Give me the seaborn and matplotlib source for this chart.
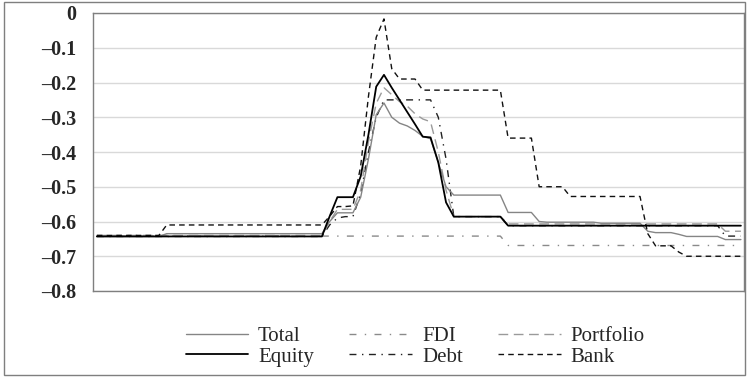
import matplotlib
matplotlib.use("Agg")
import matplotlib.pyplot as plt
import seaborn as sns
import pandas as pd
from matplotlib.patches import Rectangle

sns.set_theme(style="white")
plt.rcParams['font.family'] = ['Liberation Serif', 'DejaVu Serif']
plt.rcParams['lines.scale_dashes'] = False

# ---------------- data ----------------
periods = list(range(84))

bank = [-0.64, -0.64, -0.64, -0.64, -0.64, -0.64, -0.64, -0.64, -0.64,
        -0.61, -0.61, -0.61, -0.61, -0.61, -0.61, -0.61, -0.61, -0.61, -0.61,
        -0.61, -0.61, -0.61, -0.61, -0.61, -0.61, -0.61, -0.61, -0.61, -0.61, -0.61,
        -0.585, -0.557, -0.557, -0.555, -0.44, -0.24, -0.07, -0.017, -0.16,
        -0.19, -0.19, -0.19,
        -0.222, -0.222, -0.222, -0.222, -0.222, -0.222, -0.222, -0.222, -0.222, -0.222, -0.222,
        -0.36, -0.36, -0.36, -0.36,
        -0.50, -0.50, -0.50, -0.50,
        -0.528, -0.528, -0.528, -0.528, -0.528, -0.528, -0.528, -0.528, -0.528, -0.528,
        -0.635, -0.67, -0.67, -0.67, -0.688,
        -0.70, -0.70, -0.70, -0.70, -0.70, -0.70, -0.70, -0.70]

equity = [-0.643, -0.643, -0.643, -0.643, -0.643, -0.643, -0.643, -0.643, -0.643, -0.643,
          -0.643, -0.643, -0.643, -0.643, -0.643, -0.643, -0.643, -0.643, -0.643, -0.643,
          -0.643, -0.643, -0.643, -0.643, -0.643, -0.643, -0.643, -0.643, -0.643, -0.643,
          -0.585, -0.53, -0.53, -0.53, -0.47, -0.35, -0.212, -0.178, -0.215, -0.25,
          -0.285, -0.32, -0.356, -0.358, -0.43, -0.545,
          -0.586, -0.586, -0.586, -0.586, -0.586, -0.586, -0.586,
          -0.612, -0.612, -0.612, -0.612, -0.612, -0.612, -0.612, -0.612, -0.612, -0.612,
          -0.612, -0.612, -0.612, -0.612, -0.612, -0.612, -0.612, -0.612, -0.612, -0.612,
          -0.612, -0.612, -0.612, -0.612, -0.612, -0.612, -0.612, -0.612, -0.612, -0.612,
          -0.612]

total = [-0.643, -0.643, -0.643, -0.643, -0.643, -0.643, -0.643, -0.643, -0.643,
         -0.635, -0.635, -0.635, -0.635, -0.635, -0.635, -0.635, -0.635, -0.635, -0.635,
         -0.635, -0.635, -0.635, -0.635, -0.635, -0.635, -0.635, -0.635, -0.635, -0.635, -0.635,
         -0.60, -0.575, -0.575, -0.575, -0.53, -0.42, -0.293, -0.259, -0.30, -0.317,
         -0.325, -0.338, -0.355, -0.362, -0.43, -0.50,
         -0.524, -0.524, -0.524, -0.524, -0.524, -0.524, -0.524,
         -0.574, -0.574, -0.574, -0.574,
         -0.60, -0.602, -0.602, -0.602, -0.602, -0.602, -0.602, -0.602,
         -0.605, -0.605, -0.605, -0.605, -0.605, -0.605,
         -0.628, -0.632, -0.632, -0.632, -0.637,
         -0.643, -0.643, -0.643, -0.643, -0.643,
         -0.652, -0.652, -0.652]

fdi = [-0.642, -0.642, -0.642, -0.642, -0.642, -0.642, -0.642, -0.642, -0.642, -0.642,
       -0.642, -0.642, -0.642, -0.642, -0.642, -0.642, -0.642, -0.642, -0.642, -0.642,
       -0.642, -0.642, -0.642, -0.642, -0.642, -0.642, -0.642, -0.642, -0.642, -0.642,
       -0.642, -0.642, -0.642, -0.642, -0.642, -0.642, -0.642, -0.642, -0.642, -0.642,
       -0.642, -0.642, -0.642, -0.642, -0.642, -0.642, -0.642, -0.642, -0.642, -0.642,
       -0.642, -0.642, -0.642,
       -0.669, -0.669, -0.669, -0.669, -0.669, -0.669, -0.669, -0.669, -0.669, -0.669,
       -0.669, -0.669, -0.669, -0.669, -0.669, -0.669, -0.669, -0.669, -0.669, -0.669,
       -0.669, -0.669, -0.669, -0.669, -0.669, -0.669, -0.669, -0.669, -0.669, -0.669,
       -0.669]

debt = [-0.643, -0.643, -0.643, -0.643, -0.643, -0.643, -0.643, -0.643, -0.643, -0.643,
        -0.643, -0.643, -0.643, -0.643, -0.643, -0.643, -0.643, -0.643, -0.643, -0.643,
        -0.643, -0.643, -0.643, -0.643, -0.643, -0.643, -0.643, -0.643, -0.643, -0.643,
        -0.61, -0.59, -0.586, -0.586, -0.52, -0.40, -0.30, -0.25,
        -0.25, -0.25, -0.25, -0.25, -0.25, -0.25, -0.30, -0.42,
        -0.586, -0.586, -0.586, -0.586, -0.586, -0.586, -0.586,
        -0.612, -0.612, -0.612, -0.612, -0.612, -0.612, -0.612, -0.612, -0.612, -0.612,
        -0.612, -0.612, -0.612, -0.612, -0.612, -0.612, -0.612, -0.612, -0.612, -0.612,
        -0.612, -0.612, -0.612, -0.612, -0.612, -0.612, -0.612, -0.612,
        -0.642, -0.642, -0.642]

portfolio = [-0.64, -0.64, -0.64, -0.64, -0.64, -0.64, -0.64, -0.64, -0.64, -0.64,
             -0.64, -0.64, -0.64, -0.64, -0.64, -0.64, -0.64, -0.64, -0.64, -0.64,
             -0.64, -0.64, -0.64, -0.64, -0.64, -0.64, -0.64, -0.64, -0.64, -0.64,
             -0.60, -0.565, -0.565, -0.565, -0.51, -0.37, -0.26, -0.215, -0.235, -0.255,
             -0.268, -0.29, -0.305, -0.313, -0.40, -0.51,
             -0.586, -0.586, -0.586, -0.586, -0.586, -0.586, -0.586,
             -0.607, -0.607, -0.607, -0.607, -0.607, -0.607, -0.607, -0.607, -0.607, -0.607,
             -0.607, -0.607, -0.607, -0.607, -0.607, -0.607, -0.607, -0.607, -0.607, -0.607,
             -0.607, -0.607, -0.607, -0.607, -0.607, -0.607, -0.607, -0.607,
             -0.628, -0.628, -0.628]

series_names = ["Total", "Equity", "FDI", "Debt", "Portfolio", "Bank"]
y_ticks = [0, -0.1, -0.2, -0.3, -0.4, -0.5, -0.6, -0.7, -0.8]
y_tick_labels = ["0", "\u20130.1", "\u20130.2", "\u20130.3", "\u20130.4",
                 "\u20130.5", "\u20130.6", "\u20130.7", "\u20130.8"]

values = {"Total": total, "Equity": equity, "FDI": fdi, "Debt": debt,
          "Portfolio": portfolio, "Bank": bank}
df = pd.DataFrame({"period": periods, **values})

# ---------------- styles ----------------
styles = {
    "FDI":       dict(color="#8a8a8a", lw=1.0, ls=(0, (5, 6, 1, 6))),
    "Debt":      dict(color="#222222", lw=1.0, ls=(0, (5, 4, 1, 4))),
    "Portfolio": dict(color="#9a9a9a", lw=1.0, ls=(0, (7, 4))),
    "Total":     dict(color="#858585", lw=1.0, ls="-"),
    "Bank":      dict(color="#111111", lw=1.0, ls=(0, (4, 3))),
    "Equity":    dict(color="#000000", lw=1.3, ls="-"),
}
draw_order = ["FDI", "Debt", "Portfolio", "Total", "Bank", "Equity"]

W, H = 748, 377
fig = plt.figure(figsize=(W / 100, H / 100), dpi=100)
ax = fig.add_axes([93 / W, 1 - 291 / H, (744 - 93) / W, (291 - 13) / H])

handles = {}
for name in draw_order:
    st = styles[name]
    sns.lineplot(data=df, x="period", y=name, ax=ax, color=st["color"],
                 linewidth=st["lw"], linestyle=st["ls"], label=name)
    handles[name] = ax.get_lines()[-1]

ax.set_xlim(-0.5, 83.4)
ax.set_ylim(-0.8, 0)
ax.set_xticks([])
ax.set_yticks(y_ticks)
ax.set_yticklabels(y_tick_labels, fontsize=14.5, fontweight="bold")
ax.tick_params(axis="y", length=0, pad=12)
ax.set_xlabel("")
ax.set_ylabel("")
ax.grid(axis="y", color="#d9d9d9", linewidth=1.0)
ax.set_axisbelow(True)
for sp in ax.spines.values():
    sp.set_color("#7f7f7f")
    sp.set_linewidth(1.0)

leg_order = ["Total", "Equity", "FDI", "Debt", "Portfolio", "Bank"]
ax.legend([handles[n] for n in leg_order], leg_order, ncol=3, frameon=False,
          fontsize=15, handlelength=3.0, handletextpad=0.48, columnspacing=1.7,
          labelspacing=0.05, loc="center", bbox_to_anchor=(0.555, 0.081),
          bbox_transform=fig.transFigure)

fig.patches.append(Rectangle((4 / W, 2 / H), 741 / W, 373 / H, transform=fig.transFigure,
                             fill=False, edgecolor="#7f7f7f", linewidth=1.0))

fig.savefig("out.png", dpi=100)
